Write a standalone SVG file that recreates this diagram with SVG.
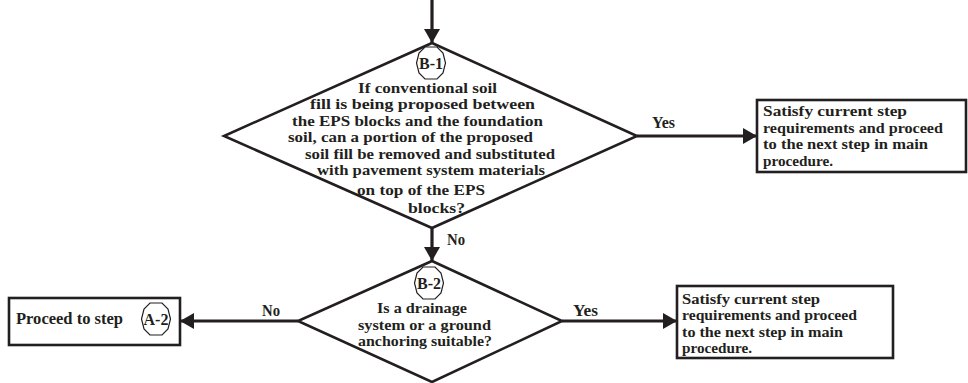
<svg xmlns="http://www.w3.org/2000/svg" width="968" height="383" viewBox="0 0 968 383">
  <style>
    .shape { fill: #fff; stroke: #231f20; stroke-width: 2.6; stroke-linejoin: miter; }
    .box { fill: #fff; stroke: #231f20; stroke-width: 2.6; }
    .tag { fill: #fff; stroke: #231f20; stroke-width: 1.2; }
    .wire { fill: none; stroke: #231f20; stroke-width: 3.2; }
    .t { font-family: "Liberation Serif", "Times New Roman", serif; font-weight: bold; font-size: 16px; fill: #231f20; }
    .q { font-size: 14.5px; }
    .mid { text-anchor: middle; }
  </style>
  <defs>
    <marker id="arrow" viewBox="0 0 14 16" refX="14" refY="8" markerWidth="14" markerHeight="16" markerUnits="userSpaceOnUse" orient="auto">
      <path d="M0,0 L14,8 L0,16 Z" fill="#231f20"/>
    </marker>
    <polygon id="oct" class="tag" points="-6,-16 6,-16 12,-10 14.5,0 12,10 6,16 -6,16 -12,10 -14.5,0 -12,-10"/>
  </defs>

  <!-- connectors -->
  <g id="connectors">
    <line class="wire" x1="432" y1="0" x2="432" y2="43" marker-end="url(#arrow)"/>
    <line class="wire" x1="637" y1="136" x2="757" y2="136" marker-end="url(#arrow)"/>
    <text class="t" x="652" y="128" textLength="23" lengthAdjust="spacingAndGlyphs">Yes</text>
    <line class="wire" x1="432" y1="228" x2="432" y2="261" marker-end="url(#arrow)"/>
    <text class="t" x="447" y="245" textLength="18" lengthAdjust="spacingAndGlyphs">No</text>
    <line class="wire" x1="298" y1="321" x2="180" y2="321" marker-end="url(#arrow)"/>
    <text class="t" x="262" y="316" textLength="18" lengthAdjust="spacingAndGlyphs">No</text>
    <line class="wire" x1="562" y1="321" x2="677" y2="321" marker-end="url(#arrow)"/>
    <text class="t" x="573" y="316" textLength="25" lengthAdjust="spacingAndGlyphs">Yes</text>
  </g>

  <!-- decision B-1 -->
  <g id="decision-b1">
    <polygon class="shape" points="432,43 637,136 432,228 224,136"/>
    <use href="#oct" x="431" y="63"/>
    <text class="t mid" x="431" y="69">B-1</text>
    <text class="t q" x="358" y="92.5" textLength="139" lengthAdjust="spacingAndGlyphs">If conventional  soil</text>
    <text class="t q" x="310" y="109" textLength="225" lengthAdjust="spacingAndGlyphs">fill is being proposed  between</text>
    <text class="t q" x="292" y="125.5" textLength="251" lengthAdjust="spacingAndGlyphs">the  EPS blocks  and the foundation</text>
    <text class="t q" x="288" y="142" textLength="245" lengthAdjust="spacingAndGlyphs">soil, can a portion  of the proposed</text>
    <text class="t q" x="305" y="158.5" textLength="250" lengthAdjust="spacingAndGlyphs">soil  fill be removed and substituted</text>
    <text class="t q" x="317" y="175" textLength="228" lengthAdjust="spacingAndGlyphs">with pavement  system materials</text>
    <text class="t q" x="357" y="195" textLength="128" lengthAdjust="spacingAndGlyphs">on  top  of the EPS</text>
    <text class="t q" x="408" y="213" textLength="57" lengthAdjust="spacingAndGlyphs">blocks?</text>
  </g>

  <!-- outcome after B-1 Yes -->
  <g id="satisfy-b1">
    <rect class="box" x="757" y="100" width="209" height="72"/>
    <text class="t q" x="763" y="116" textLength="144" lengthAdjust="spacingAndGlyphs">Satisfy  current step</text>
    <text class="t q" x="763" y="132.5" textLength="180" lengthAdjust="spacingAndGlyphs">requirements and  proceed</text>
    <text class="t q" x="763" y="149" textLength="165" lengthAdjust="spacingAndGlyphs">to the next  step  in main</text>
    <text class="t q" x="763" y="165.5" textLength="70" lengthAdjust="spacingAndGlyphs">procedure.</text>
  </g>

  <!-- decision B-2 -->
  <g id="decision-b2">
    <polygon class="shape" points="432,261 562,321 432,382 298,321"/>
    <use href="#oct" x="429" y="283"/>
    <text class="t mid" x="429" y="289">B-2</text>
    <text class="t q" x="377" y="312.5" textLength="90" lengthAdjust="spacingAndGlyphs">Is a drainage</text>
    <text class="t q" x="358" y="329.5" textLength="133" lengthAdjust="spacingAndGlyphs">system or a ground</text>
    <text class="t q" x="358" y="346" textLength="134" lengthAdjust="spacingAndGlyphs">anchoring suitable?</text>
  </g>

  <!-- outcome after B-2 No -->
  <g id="proceed-a2">
    <rect class="box" x="9" y="298" width="171" height="47"/>
    <text class="t" x="16" y="324" textLength="107" lengthAdjust="spacingAndGlyphs">Proceed to step</text>
    <use href="#oct" x="156" y="319"/>
    <text class="t mid" x="156" y="325">A-2</text>
  </g>

  <!-- outcome after B-2 Yes -->
  <g id="satisfy-b2">
    <rect class="box" x="677" y="286" width="216" height="72"/>
    <text class="t q" x="682" y="303.5" textLength="138" lengthAdjust="spacingAndGlyphs">Satisfy  current step</text>
    <text class="t q" x="682" y="320" textLength="175" lengthAdjust="spacingAndGlyphs">requirements and  proceed</text>
    <text class="t q" x="682" y="336.5" textLength="161" lengthAdjust="spacingAndGlyphs">to the next  step  in main</text>
    <text class="t q" x="682" y="353" textLength="70" lengthAdjust="spacingAndGlyphs">procedure.</text>
  </g>
</svg>
